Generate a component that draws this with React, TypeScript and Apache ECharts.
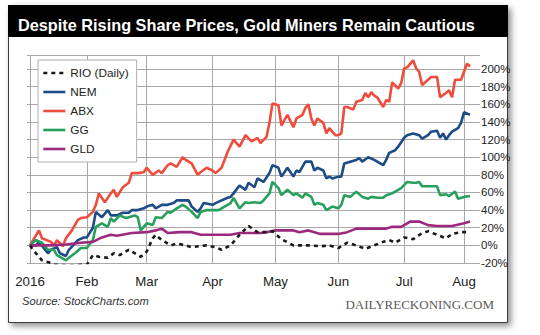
import React, { useEffect, useRef } from 'react';
import * as echarts from 'echarts';

// Trading calendar (US market holidays in the period)
const HOLIDAYS = ['2016-01-18', '2016-02-15', '2016-03-25', '2016-05-30', '2016-07-04'];
const MONTH_LABELS = ['2016', 'Feb', 'Mar', 'Apr', 'May', 'Jun', 'Jul', 'Aug'];
const SERIES_NAMES = ['RIO (Daily)', 'NEM', 'ABX', 'GG', 'GLD'];
const SERIES_COLORS = ['#1a1a1a', '#1d4b85', '#ef4c3d', '#27a05e', '#9b2a7f'];

// [trading-day index, % change]
const RIO: [number, number][] = [
  [0, 0], [1, -5], [3, -13], [4, -17], [7, -20], [8, -22], [10, -22], [13, -23], [17, -22], [19, -22],
  [21, -11], [23, -13], [26, -14], [28, -9], [30, -11], [33, -5], [37, -13], [39, -7], [41, 8], [42, 12],
  [44, 6], [47, 0], [49, 2], [52, 0], [54, -2], [59, 0], [62, -2], [64, -5], [67, 0], [70, 12],
  [73, 22], [76, 15], [79, 15], [81, 16], [84, 7], [88, 0], [93, 0], [97, -1], [100, 0], [103, -3],
  [106, 3], [109, 0], [112, -4], [115, 0], [118, 4], [120, 6], [122, 3], [125, 9], [128, 7], [131, 14],
  [133, 16], [136, 12], [139, 8], [141, 13], [144, 15], [147, 15],
];

const NEM: [number, number][] = [
  [0, 0], [2, 0], [3, 4], [6, -9], [7, -5], [9, -2], [10, -9], [12, -12], [13, -5], [16, 6],
  [18, 9], [19, 9], [21, 20], [22, 38], [24, 32], [26, 40], [27, 34], [29, 34], [31, 37], [33, 37],
  [34, 40], [36, 40], [38, 42], [39, 44], [41, 46], [42, 42], [44, 46], [46, 46], [48, 48], [49, 51],
  [51, 51], [53, 51], [54, 44], [56, 38], [57, 42], [58, 48], [61, 46], [62, 48], [64, 51], [66, 54],
  [67, 55], [68, 59], [70, 68], [72, 63], [73, 71], [75, 66], [76, 76], [78, 72], [80, 82], [81, 91],
  [83, 88], [84, 78], [85, 83], [86, 88], [88, 78], [89, 85], [90, 83], [92, 95], [94, 95], [95, 85],
  [96, 88], [98, 85], [99, 76], [100, 78], [101, 76], [103, 78], [104, 78], [105, 93], [107, 95], [109, 97],
  [110, 99], [111, 95], [113, 100], [115, 97], [116, 95], [118, 91], [119, 97], [120, 105], [122, 108], [123, 112],
  [125, 122], [126, 125], [128, 127], [130, 125], [131, 121], [133, 125], [134, 129], [136, 130], [137, 122], [138, 127],
  [139, 120], [140, 125], [141, 129], [143, 133], [144, 139], [145, 151], [147, 148],
];

const ABX: [number, number][] = [
  [0, 0], [3, 17], [4, 8], [7, 4], [8, 0], [9, 6], [11, -1], [12, 8], [14, 17], [16, 29],
  [17, 31], [19, 32], [21, 38], [22, 46], [23, 59], [25, 49], [27, 59], [28, 63], [29, 55], [31, 66],
  [33, 71], [34, 82], [36, 82], [38, 83], [39, 88], [41, 80], [43, 85], [44, 82], [46, 91], [47, 93],
  [49, 89], [51, 100], [52, 97], [54, 93], [56, 80], [57, 83], [59, 88], [61, 85], [62, 82], [64, 88],
  [66, 106], [68, 120], [70, 112], [72, 125], [74, 118], [76, 122], [77, 116], [79, 123], [80, 139], [81, 161],
  [83, 159], [84, 136], [85, 142], [86, 148], [88, 134], [89, 144], [91, 148], [92, 156], [93, 160], [94, 144],
  [95, 136], [96, 144], [98, 139], [99, 127], [100, 133], [102, 125], [103, 125], [104, 127], [105, 157], [106, 157],
  [108, 154], [109, 163], [111, 165], [112, 173], [113, 168], [114, 174], [115, 170], [116, 168], [118, 157], [119, 165],
  [120, 163], [121, 185], [123, 178], [124, 184], [125, 201], [126, 202], [128, 210], [129, 201], [130, 197], [131, 182],
  [133, 188], [134, 191], [136, 191], [137, 168], [139, 173], [140, 176], [141, 168], [142, 188], [144, 188], [145, 197],
  [146, 206], [147, 203],
];

const GG: [number, number][] = [
  [0, 0], [2, 6], [4, 3], [6, -5], [8, -5], [9, -11], [12, -17], [13, -14], [15, -9], [17, -3],
  [19, -3], [21, 6], [22, 21], [24, 25], [26, 21], [27, 31], [28, 27], [30, 34], [32, 31], [33, 32],
  [35, 34], [36, 32], [37, 17], [39, 25], [41, 23], [42, 32], [44, 31], [46, 38], [47, 37], [49, 42],
  [51, 46], [52, 44], [54, 38], [56, 31], [57, 38], [59, 40], [61, 40], [63, 40], [65, 44], [67, 48],
  [68, 54], [70, 42], [72, 49], [73, 48], [75, 49], [77, 48], [78, 51], [80, 59], [81, 72], [83, 65],
  [84, 57], [86, 63], [88, 57], [89, 59], [91, 54], [92, 59], [94, 55], [95, 46], [96, 48], [98, 46],
  [99, 40], [101, 44], [103, 42], [104, 46], [105, 57], [107, 55], [109, 61], [111, 55], [113, 53], [114, 55],
  [116, 54], [118, 54], [119, 57], [120, 58], [121, 59], [124, 65], [126, 72], [128, 71], [129, 71], [130, 72],
  [131, 67], [134, 67], [136, 67], [137, 57], [139, 58], [140, 56], [142, 61], [143, 53], [145, 55], [147, 56],
];

const GLD: [number, number][] = [
  [0, 0], [7, 0], [12, 1], [17, 3], [21, 4], [24, 9], [27, 12], [29, 11], [34, 14], [39, 15],
  [42, 17], [44, 19], [46, 14], [50, 15], [54, 15], [57, 12], [61, 12], [67, 12], [70, 14], [75, 14],
  [77, 14], [79, 15], [82, 17], [88, 17], [90, 15], [93, 17], [97, 13], [103, 13], [106, 15], [109, 19],
  [119, 19], [121, 21], [124, 21], [127, 27], [130, 27], [133, 23], [136, 22], [141, 22], [145, 25], [147, 27],
];

const SERIES_DATA = [RIO, NEM, ABX, GG, GLD];

function tradingDays(): string[] {
  const out: string[] = [];
  const d = new Date(Date.UTC(2016, 0, 4));
  const end = Date.UTC(2016, 7, 5);
  while (d.getTime() <= end) {
    const wd = d.getUTCDay();
    const s = d.toISOString().slice(0, 10);
    if (wd !== 0 && wd !== 6 && !HOLIDAYS.includes(s)) out.push(s);
    d.setUTCDate(d.getUTCDate() + 1);
  }
  return out;
}

const DAYS = tradingDays();
const MONTH_START: boolean[] = DAYS.map((s, i) => i === 0 || s.slice(5, 7) !== DAYS[i - 1].slice(5, 7));
const isMonthStart = (index: number) => !!MONTH_START[index];

export default function App() {
  const ref = useRef<HTMLDivElement>(null);
  useEffect(() => {
    if (!ref.current) return;
    const chart = echarts.init(ref.current, null, { renderer: 'svg' });
    const font = 'Liberation Sans, Arial, Helvetica, sans-serif';
    const gridColor = '#a8a8a8';
    chart.setOption({
      animation: false,
      textStyle: { fontFamily: font },
      graphic: [
        {
          type: 'rect', z: -10,
          shape: { x: 8.5, y: 5.5, width: 499, height: 317 },
          style: { fill: '#fff', stroke: '#3a3a3a', lineWidth: 1, shadowBlur: 6, shadowOffsetX: 3, shadowOffsetY: 3, shadowColor: 'rgba(0,0,0,0.45)' },
        },
        { type: 'rect', z: -9, shape: { x: 8, y: 5, width: 500, height: 32 }, style: { fill: '#000' } },
        {
          type: 'text', z: -8, x: 18, y: 25,
          style: { text: 'Despite Rising Share Prices, Gold Miners Remain Cautious', fill: '#fff', fontSize: 16.3, fontWeight: 'bold', fontFamily: font, verticalAlign: 'middle', align: 'left' },
        },
        {
          type: 'text', x: 22, y: 301,
          style: { text: 'Source: StockCharts.com', fill: '#333', fontSize: 11.2, fontStyle: 'italic', fontFamily: font, verticalAlign: 'middle', align: 'left' },
        },
        {
          type: 'text', x: 494, y: 304,
          style: { text: 'DAILYRECKONING.COM', fill: '#5a5a5a', fontSize: 13, fontFamily: 'Liberation Serif, Times New Roman, serif', verticalAlign: 'middle', align: 'right' },
        },
      ],
      grid: { left: 30, right: 64, top: 55, bottom: 72 },
      legend: {
        orient: 'vertical', left: 38, top: 60,
        padding: [6, 8, 6, 4], itemGap: 5, itemWidth: 22, itemHeight: 14,
        backgroundColor: '#fff', borderColor: '#b0b0b0', borderWidth: 1,
        selectedMode: false,
        data: SERIES_NAMES,
        itemStyle: { opacity: 0 },
        lineStyle: { width: 2.6 },
        textStyle: { fontSize: 11.8, color: '#222', fontFamily: font, lineHeight: 14 },
      },
      xAxis: {
        type: 'category', data: DAYS, boundaryGap: false, offset: 6,
        axisLine: { show: true, lineStyle: { color: gridColor, width: 1 } },
        axisTick: { show: true, inside: true, length: 6, interval: isMonthStart, lineStyle: { color: gridColor } },
        splitLine: { show: true, interval: isMonthStart, lineStyle: { color: gridColor, width: 1 } },
        axisLabel: {
          interval: isMonthStart, margin: 6, fontSize: 13.3, color: '#222', fontFamily: font,
          formatter: (v: string, i: number) => (i === 0 ? MONTH_LABELS[0] : MONTH_LABELS[parseInt(v.slice(5, 7), 10) - 1]),
        },
      },
      yAxis: [
        {
          type: 'value', position: 'right', min: -20, max: 216, interval: 20,
          axisLine: { show: false },
          axisTick: { show: true, length: 4, lineStyle: { color: gridColor } },
          splitLine: { show: true, lineStyle: { color: gridColor, width: 1 } },
          axisLabel: {
            margin: 5, fontSize: 11.5, color: '#222', fontFamily: font,
            formatter: (v: number) => (v % 20 === 0 && v <= 200 ? `${v}%` : ''),
          },
        },
        {
          type: 'value', position: 'left', min: -20, max: 216, interval: 20,
          axisLine: { show: false },
          axisTick: { show: true, length: 3, lineStyle: { color: gridColor } },
          splitLine: { show: false },
          axisLabel: { show: false },
        },
      ],
      series: SERIES_NAMES.map((name, k) => ({
        name, type: 'line', yAxisIndex: 0,
        showSymbol: false, symbol: 'none',
        color: SERIES_COLORS[k],
        lineStyle: k === 0
          ? { color: SERIES_COLORS[k], width: 2.6, type: [4, 4] }
          : { color: SERIES_COLORS[k], width: 2.6 },
        z: k === 0 ? 6 : 3,
        data: SERIES_DATA[k].map(([d, v]) => [DAYS[d], v]),
      })),
    });
    return () => chart.dispose();
  }, []);
  return <div ref={ref} style={{ position: 'absolute', left: 0, top: 0, width: 540, height: 335 }} />;
}
